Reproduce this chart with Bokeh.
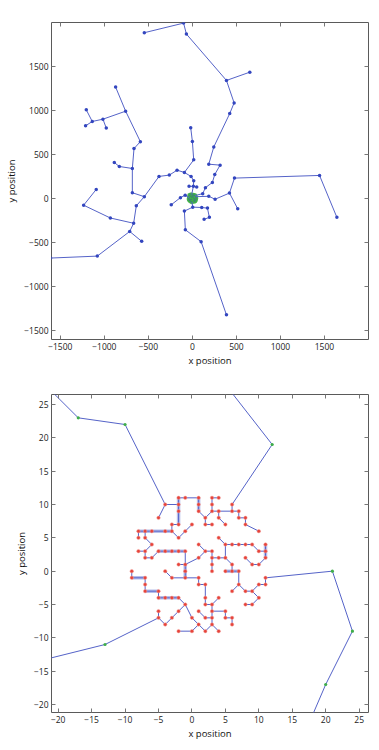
from bokeh.plotting import figure
from bokeh.layouts import column
from bokeh.models import FixedTicker, LinearAxis, Range1d
from bokeh.embed import file_html
from bokeh.resources import INLINE

# ---------------- data ----------------
# fine (lattice) level: polylines, every vertex is a red node
LATTICE_PATHS = [
    [(-1, -1), (-1, 0), (-1, 1), (1, 2), (2, 3), (3, 3), (3, 2), (3, 1), (3, 0)],
    [(-1, 1), (-2, 1)],
    [(2, 3), (1, 4)],
    [(3, 2), (4, 2), (5, 2), (5, 4), (6, 4), (7, 4), (8, 4), (9, 4), (10, 3), (11, 3), (11, 4)],
    [(5, 4), (4, 5)],
    [(11, 3), (11, 2), (10, 1), (9, 1), (8, 2)],
    [(5, 2), (6, 1), (6, 0), (5, 0)],
    [(6, 0), (7, 0), (7, -2), (6, -3)],
    [(7, -2), (8, -3), (9, -3), (10, -2), (11, -2), (11, -1)],
    [(9, -3), (10, -4), (9, -5), (8, -5)],
    [(-1, -1), (-3, -1), (-4, 0)],
    [(-1, -1), (1, -1), (1, -2), (2, -2), (2, -4), (2, -5), (3, -5), (4, -4)],
    [(3, -5), (3, -6), (5, -6), (5, -7), (6, -7), (6, -8)],
    [(3, -6), (3, -7), (3, -8), (2, -9)],
    [(3, -8), (4, -9)],
    [(3, -7), (2, -7), (1, -6)],
    [(2, -9), (1, -8), (0, -7), (-1, -5)],
    [(1, -8), (0, -9), (-2, -9)],
    [(-1, -5), (-2, -4), (-3, -4), (-4, -4), (-5, -4), (-5, -3), (-7, -3), (-7, -2), (-7, -1), (-9, -1), (-9, 0)],
    [(-1, -5), (-2, -6), (-3, -7), (-4, -8), (-5, -7), (-5, -6)],
    [(-1, 1), (-1, 3), (-2, 3), (-3, 3), (-4, 3), (-5, 3), (-6, 2), (-7, 2), (-7, 3), (-6, 4), (-7, 5), (-7, 6), (-8, 6), (-8, 5)],
    [(-7, 3), (-8, 3)],
    [(-7, 6), (-6, 6), (-4, 6), (-3, 6), (-2, 5), (-1, 6), (0, 7)],
    [(-3, 6), (-3, 7), (-2, 7), (-2, 9), (-2, 10), (-2, 11), (-1, 11), (1, 11), (1, 10), (1, 9), (2, 8), (2, 7), (3, 7)],
    [(-2, 10), (-4, 10), (-5, 8)],
    [(2, 8), (3, 9), (4, 9), (6, 9), (7, 9), (7, 8), (8, 8), (8, 7), (10, 6)],
    [(3, 9), (3, 10), (3, 11), (4, 11)],
    [(4, 9), (4, 8), (5, 7)],
    [(6, 9), (6, 10)],
]

# lattice segments that are drawn doubled (pale wide band)
THICK_PATHS = [
    [(-2, 11), (-2, 7)], [(-8, 6), (-3, 6)], [(-5, 3), (-1, 3)],
    [(-7, -3), (-5, -3)], [(-5, -4), (-2, -4)], [(1, 11), (1, 9)],
    [(11, 2), (11, 4)], [(5, 0), (7, 0)], [(-9, -1), (-7, -1)],
    [(-1, -1), (-1, 1)],
]

# middle level (green nodes); first vertex of each path is the node it hangs from
MID_PATHS = [
    [(-4, 10), (-10, 22), (-17, 23), (-25, 31), (-33, 37)],
    [(-25, 31), (-30, 24)],
    [(-33, 37), (-20, 45)],
    [(6, 10), (12, 19), (5, 28), (3, 37), (-8, 44)],
    [(3, 37), (14, 42), (30, 35)],
    [(11, -1), (21, 0), (24, -9), (20, -17), (17, -24), (20, -33), (32, -26), (38, -12), (42, 5), (36, 22)],
    [(-5, -7), (-13, -11), (-25, -14), (-34, -20), (-40, -5), (-37, 10)],
    [(-34, -20), (-22, -30), (-5, -38)],
]

# coarse level (blue nodes); first vertex of each path is the node it hangs from
COARSE_PATHS = [
    [(-8, 44), (11, 139), (15, 203), (-15, 252), (-91, 297), (-174, 323), (-262, 267), (-379, 252),
     (-546, 22), (-682, 67), (-682, 342), (-663, 568), (-591, 647), (-758, 993), (-872, 1267)],
    [(11, 139), (-38, 139)],
    [(11, 139), (49, 132)],
    [(-91, 297), (15, 440), (0, 650), (-19, 805)],
    [(-682, 342), (-830, 365), (-887, 410)],
    [(-758, 993), (-1016, 902), (-1137, 876), (-1205, 1008)],
    [(-1137, 876), (-1213, 827)],
    [(-1016, 902), (-978, 801)],
    [(-546, 22), (-637, -82), (-667, -280), (-932, -220), (-1235, -75), (-1092, 104)],
    [(-667, -280), (-712, -373), (-1080, -653), (-1611, -675)],
    [(-712, -373), (-576, -485)],
    [(30, 35), (117, 56), (148, 124), (227, 184), (254, 274), (315, 380), (186, 391), (243, 587),
     (424, 966), (474, 1087), (387, 1342), (-68, 1869), (-100, 1993), (-546, 1884)],
    [(387, 1342), (652, 1436)],
    [(36, 22), (186, 26), (258, -7), (421, 63), (478, 233), (1444, 263), (1641, -213)],
    [(421, 63), (515, -116)],
    [(-5, -38), (4, -97), (-91, -142), (-80, -354), (99, -489), (387, -1320)],
    [(4, -97), (106, -101), (171, -108), (193, -213), (133, -235)],
    [(-37, 10), (-82, 38), (-136, 11), (-240, -70)],
]

TOP_RANGE = (-1600, 2000)
TOP_TICKS = [-1500, -1000, -500, 0, 500, 1000, 1500]
TOP_TICK_LABELS = ["\u22121500", "\u22121000", "\u2212500", "0", "500", "1000", "1500"]

BOT_X_RANGE = (-21, 26.4)
BOT_Y_RANGE = (-21.2, 26.5)
BOT_TICKS = [-20, -15, -10, -5, 0, 5, 10, 15, 20, 25]
BOT_TICK_LABELS = ["\u221220", "\u221215", "\u221210", "\u22125", "0", "5", "10", "15", "20", "25"]

# ---------------- helpers ----------------
LINE_COLOR = "#5563c8"
BLUE_DOT = "#3346bf"
GREEN_DOT = "#3fae49"
RED_DOT = "#e6433a"
FONT = "Open Sans"


def xs_ys(paths):
    return [[p[0] for p in path] for path in paths], [[p[1] for p in path] for path in paths]


def nodes(paths, skip_first):
    seen = []
    for path in paths:
        for pt in (path[1:] if skip_first else path):
            if pt not in seen:
                seen.append(pt)
    return [p[0] for p in seen], [p[1] for p in seen]


def style_axis(ax, ticks, labels, show_labels=True):
    ax.ticker = FixedTicker(ticks=ticks)
    ax.major_label_overrides = {t: (l if show_labels else "") for t, l in zip(ticks, labels)}
    ax.major_tick_in = 4
    ax.major_tick_out = 0
    ax.minor_tick_in = 0
    ax.minor_tick_out = 0
    ax.major_tick_line_color = "#777777"
    ax.major_tick_line_width = 1
    ax.axis_line_color = None
    ax.major_label_text_font = FONT
    ax.major_label_text_font_size = "8.5px" if show_labels else "1px"
    ax.major_label_text_color = "#222222"
    ax.major_label_standoff = 3 if show_labels else 0
    ax.axis_label_text_font = FONT
    ax.axis_label_text_font_size = "9.5px"
    ax.axis_label_text_font_style = "normal"
    ax.axis_label_text_color = "#111111"


def make_fig(xr, yr, xt, xl, yt, yl, frame_h, top, bottom):
    # Bokeh's page template has no body margin, so the 8px offset is part of the borders
    left, right = 51, 6
    p = figure(width=left + 317 + right, height=top + frame_h + bottom,
               x_range=Range1d(*xr), y_range=Range1d(*yr),
               output_backend="svg", toolbar_location=None,
               min_border_left=left, min_border_right=right,
               min_border_top=top, min_border_bottom=bottom,
               x_axis_label="x position", y_axis_label="y position")
    p.grid.visible = False
    p.outline_line_color = "#5a5a5a"
    p.outline_line_width = 1
    style_axis(p.xaxis[0], xt, xl)
    style_axis(p.yaxis[0], yt, yl)
    p.xaxis[0].axis_label_standoff = 1
    p.yaxis[0].axis_label_standoff = 3
    ax_top = LinearAxis()
    style_axis(ax_top, xt, xl, show_labels=False)
    p.add_layout(ax_top, "above")
    ax_right = LinearAxis()
    style_axis(ax_right, yt, yl, show_labels=False)
    p.add_layout(ax_right, "right")
    return p


# ---------------- top: whole cluster ----------------
p1 = make_fig(TOP_RANGE, TOP_RANGE, TOP_TICKS, TOP_TICK_LABELS, TOP_TICKS, TOP_TICK_LABELS, 317, 22, 41)
cx, cy = xs_ys(COARSE_PATHS)
mx, my = xs_ys(MID_PATHS)
p1.multi_line(mx, my, line_color=LINE_COLOR, line_width=1)
gx, gy = nodes(MID_PATHS, True)
p1.scatter(gx, gy, size=4.5, fill_color=GREEN_DOT, line_color=None, fill_alpha=0.9)
p1.multi_line(cx, cy, line_color=LINE_COLOR, line_width=1)
p1.multi_line(mx, my, line_color="#3a4ab8", line_width=0.8, line_alpha=0.6)
bx, by = nodes(COARSE_PATHS, True)
p1.scatter(bx, by, size=3.5, fill_color=BLUE_DOT, line_color=None)

# ---------------- bottom: zoom on the core ----------------
p2 = make_fig(BOT_X_RANGE, BOT_Y_RANGE, BOT_TICKS, BOT_TICK_LABELS, BOT_TICKS, BOT_TICK_LABELS, 318, 14, 30)
tx, ty = xs_ys(THICK_PATHS)
p2.multi_line(tx, ty, line_color="#b7bfea", line_width=3.5)
lx, ly = xs_ys(LATTICE_PATHS)
p2.multi_line(lx, ly, line_color=LINE_COLOR, line_width=1)
p2.multi_line(mx, my, line_color=LINE_COLOR, line_width=1)
p2.multi_line(cx, cy, line_color=LINE_COLOR, line_width=1)
rx, ry = nodes(LATTICE_PATHS, False)
p2.scatter(rx, ry, size=3.5, fill_color=RED_DOT, line_color="#f2a39c", line_width=0.5)
p2.scatter(gx, gy, size=3.2, fill_color=GREEN_DOT, line_color=None)
p2.scatter(bx, by, size=3.5, fill_color=BLUE_DOT, line_color=None)

layout = column(p1, p2, spacing=0)
open("out.html", "w").write(file_html(layout, INLINE))
